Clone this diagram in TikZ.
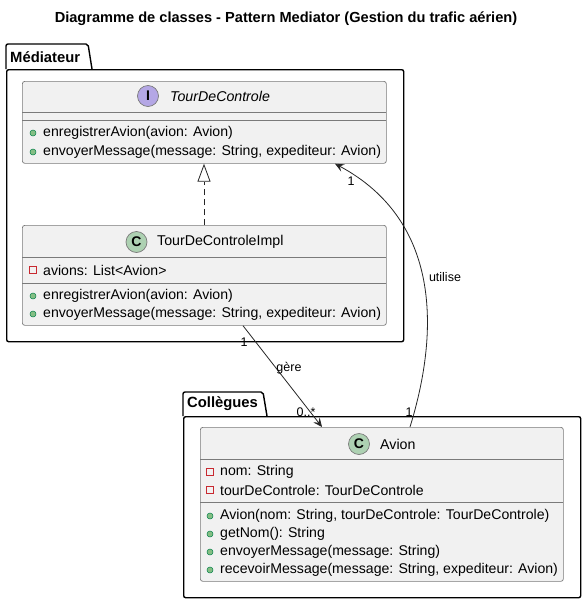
\documentclass[tikz,border=0pt]{standalone}
\usepackage{fontspec}
\setmainfont{Liberation Sans}
\usetikzlibrary{arrows.meta,calc}
\definecolor{boxfill}{HTML}{F1F1F1}
\definecolor{boxline}{HTML}{7A7A7A}
\definecolor{cgreen}{HTML}{ADD1B2}
\definecolor{ipurple}{HTML}{B4A7E5}
\definecolor{pubfill}{HTML}{84BE84}
\definecolor{publine}{HTML}{038048}
\definecolor{privline}{HTML}{C82930}
\tikzset{
  classbox/.style={draw=boxline, fill=boxfill, rounded corners=2.5pt, line width=0.7pt, inner sep=0pt, anchor=north west},
  sepline/.style={draw=boxline, line width=0.7pt},
  pkg/.style={draw=black, line width=1.4pt, rounded corners=2pt},
  pkgname/.style={font=\fontsize{14.8}{17}\selectfont\bfseries, anchor=west, inner sep=0pt},
  member/.style={font=\fontsize{14.1}{16}\selectfont, anchor=west, inner sep=0pt},
  cname/.style={font=\fontsize{14.2}{16}\selectfont, anchor=west, inner sep=0pt},
  lbl/.style={font=\fontsize{12.5}{14}\selectfont, inner sep=0pt},
  pubm/.style={circle, fill=pubfill, draw=publine, line width=0.5pt, minimum size=6pt, inner sep=0pt},
  privm/.style={rectangle, draw=privline, line width=0.7pt, minimum size=7pt, inner sep=0pt},
  badge/.style={circle, draw=boxline, line width=0.7pt, minimum size=21pt, inner sep=0pt, font=\fontsize{14}{16}\selectfont\bfseries},
  conn/.style={draw=black!85, line width=0.8pt},
  tip/.style={-{Stealth[length=9pt,width=8pt,inset=3.5pt]}}
}
\begin{document}
\begin{tikzpicture}[x=1pt,y=-1pt]
\useasboundingbox (0,0) rectangle (585,603);
\fill[white] (0,0) rectangle (585,603);
% title
\node[font=\fontsize{14.6}{17}\selectfont\bfseries, inner sep=0pt] (title) at (286,19) {Diagramme de classes - Pattern Mediator (Gestion du trafic aérien)};

% package Médiateur
\draw[pkg] (6,69) |- (88,44) -- (92,69);
\node[pkg, draw, rectangle, anchor=north west, minimum width=397pt, minimum height=272pt, inner sep=0pt] (medpkg) at (6,69) {};
\node[pkgname] (medname) at (10,57) {Médiateur};

% package Collègues
\draw[pkg] (183,416) |- (263,392) -- (267,416);
\node[pkg, draw, rectangle, anchor=north west, minimum width=397pt, minimum height=181pt, inner sep=0pt] (colpkg) at (183,416) {};
\node[pkgname] (colname) at (187,404) {Collègues};

% TourDeControle
\node[classbox, minimum width=364pt, minimum height=82pt] (tdc) at (22,81) {};
\draw[sepline] (22,112) -- (386,112);
\draw[sepline] (22,120) -- (386,120);
\node[badge, fill=ipurple] (tdcI) at (148,96) {I};
\node[cname, font=\fontsize{14.2}{16}\selectfont\itshape] (tdcname) at (170,96) {TourDeControle};
\node[pubm] (m1a) at (33,133) {};
\node[member] (t1a) at (43,133) {enregistrerAvion(avion: Avion)};
\node[pubm] (m1b) at (33,152) {};
\node[member] (t1b) at (43,152) {envoyerMessage(message: String, expediteur: Avion)};

% TourDeControleImpl
\node[classbox, minimum width=364pt, minimum height=100pt] (impl) at (22,225) {};
\draw[sepline] (22,257) -- (386,257);
\draw[sepline] (22,283) -- (386,283);
\node[badge, fill=cgreen] (implC) at (136.5,242) {C};
\node[cname] (implname) at (157,242) {TourDeControleImpl};
\node[privm] (p2a) at (33,270) {};
\node[member] (t2a) at (43,270) {avions: List<Avion>};
\node[pubm] (m2a) at (33,296) {};
\node[member] (t2b) at (43,296) {enregistrerAvion(avion: Avion)};
\node[pubm] (m2b) at (33,314) {};
\node[member] (t2c) at (43,314) {envoyerMessage(message: String, expediteur: Avion)};

% Avion
\node[classbox, minimum width=363pt, minimum height=154pt] (avion) at (200,427) {};
\draw[sepline] (200,459) -- (563,459);
\draw[sepline] (200,502) -- (563,502);
\node[badge, fill=cgreen] (avC) at (359,444) {C};
\node[cname] (avname) at (380,444) {Avion};
\node[privm] (p3a) at (210,472) {};
\node[member] (t3a) at (220,472) {nom: String};
\node[privm] (p3b) at (210,490) {};
\node[member] (t3b) at (220,490) {tourDeControle: TourDeControle};
\node[pubm] (m3a) at (210,516) {};
\node[member] (t3c) at (220,516) {Avion(nom: String, tourDeControle: TourDeControle)};
\node[pubm] (m3b) at (210,534) {};
\node[member] (t3d) at (220,534) {getNom(): String};
\node[pubm] (m3c) at (210,552) {};
\node[member] (t3e) at (220,552) {envoyerMessage(message: String)};
\node[pubm] (m3d) at (210,570) {};
\node[member] (t3f) at (220,570) {recevoirMessage(message: String, expediteur: Avion)};

% realization
\coordinate (rA) at ($(impl.north west)+(182,0)$);
\coordinate (rB) at ($(tdc.south west)+(182,0)$);
\draw[conn, dashed, dash pattern=on 6pt off 4pt, -{Triangle[open, length=18pt, width=13pt]}] (rA) -- (rB);

% gère
\coordinate (gA) at ($(impl.south west)+(221,0)$);
\coordinate (gB) at ($(avion.north west)+(122,0)$);
\draw[conn, tip] (gA) -- (gB);
\node[lbl] (g1) at (244,342) {1};
\node[lbl] (gl) at (289,368) {gère};
\node[lbl] (g2) at (306,412) {0..*};

% utilise
\coordinate (uA) at ($(avion.north west)+(210,0)$);
\coordinate (uB) at ($(tdc.south west)+(313,0)$);
\draw[conn, tip] (uA) .. controls (440,330) and (440,220) .. (uB);
\node[lbl] (u1) at (351,181) {1};
\node[lbl] (ul) at (445,277) {utilise};
\node[lbl] (u2) at (409,412) {1};
\end{tikzpicture}
\end{document}
